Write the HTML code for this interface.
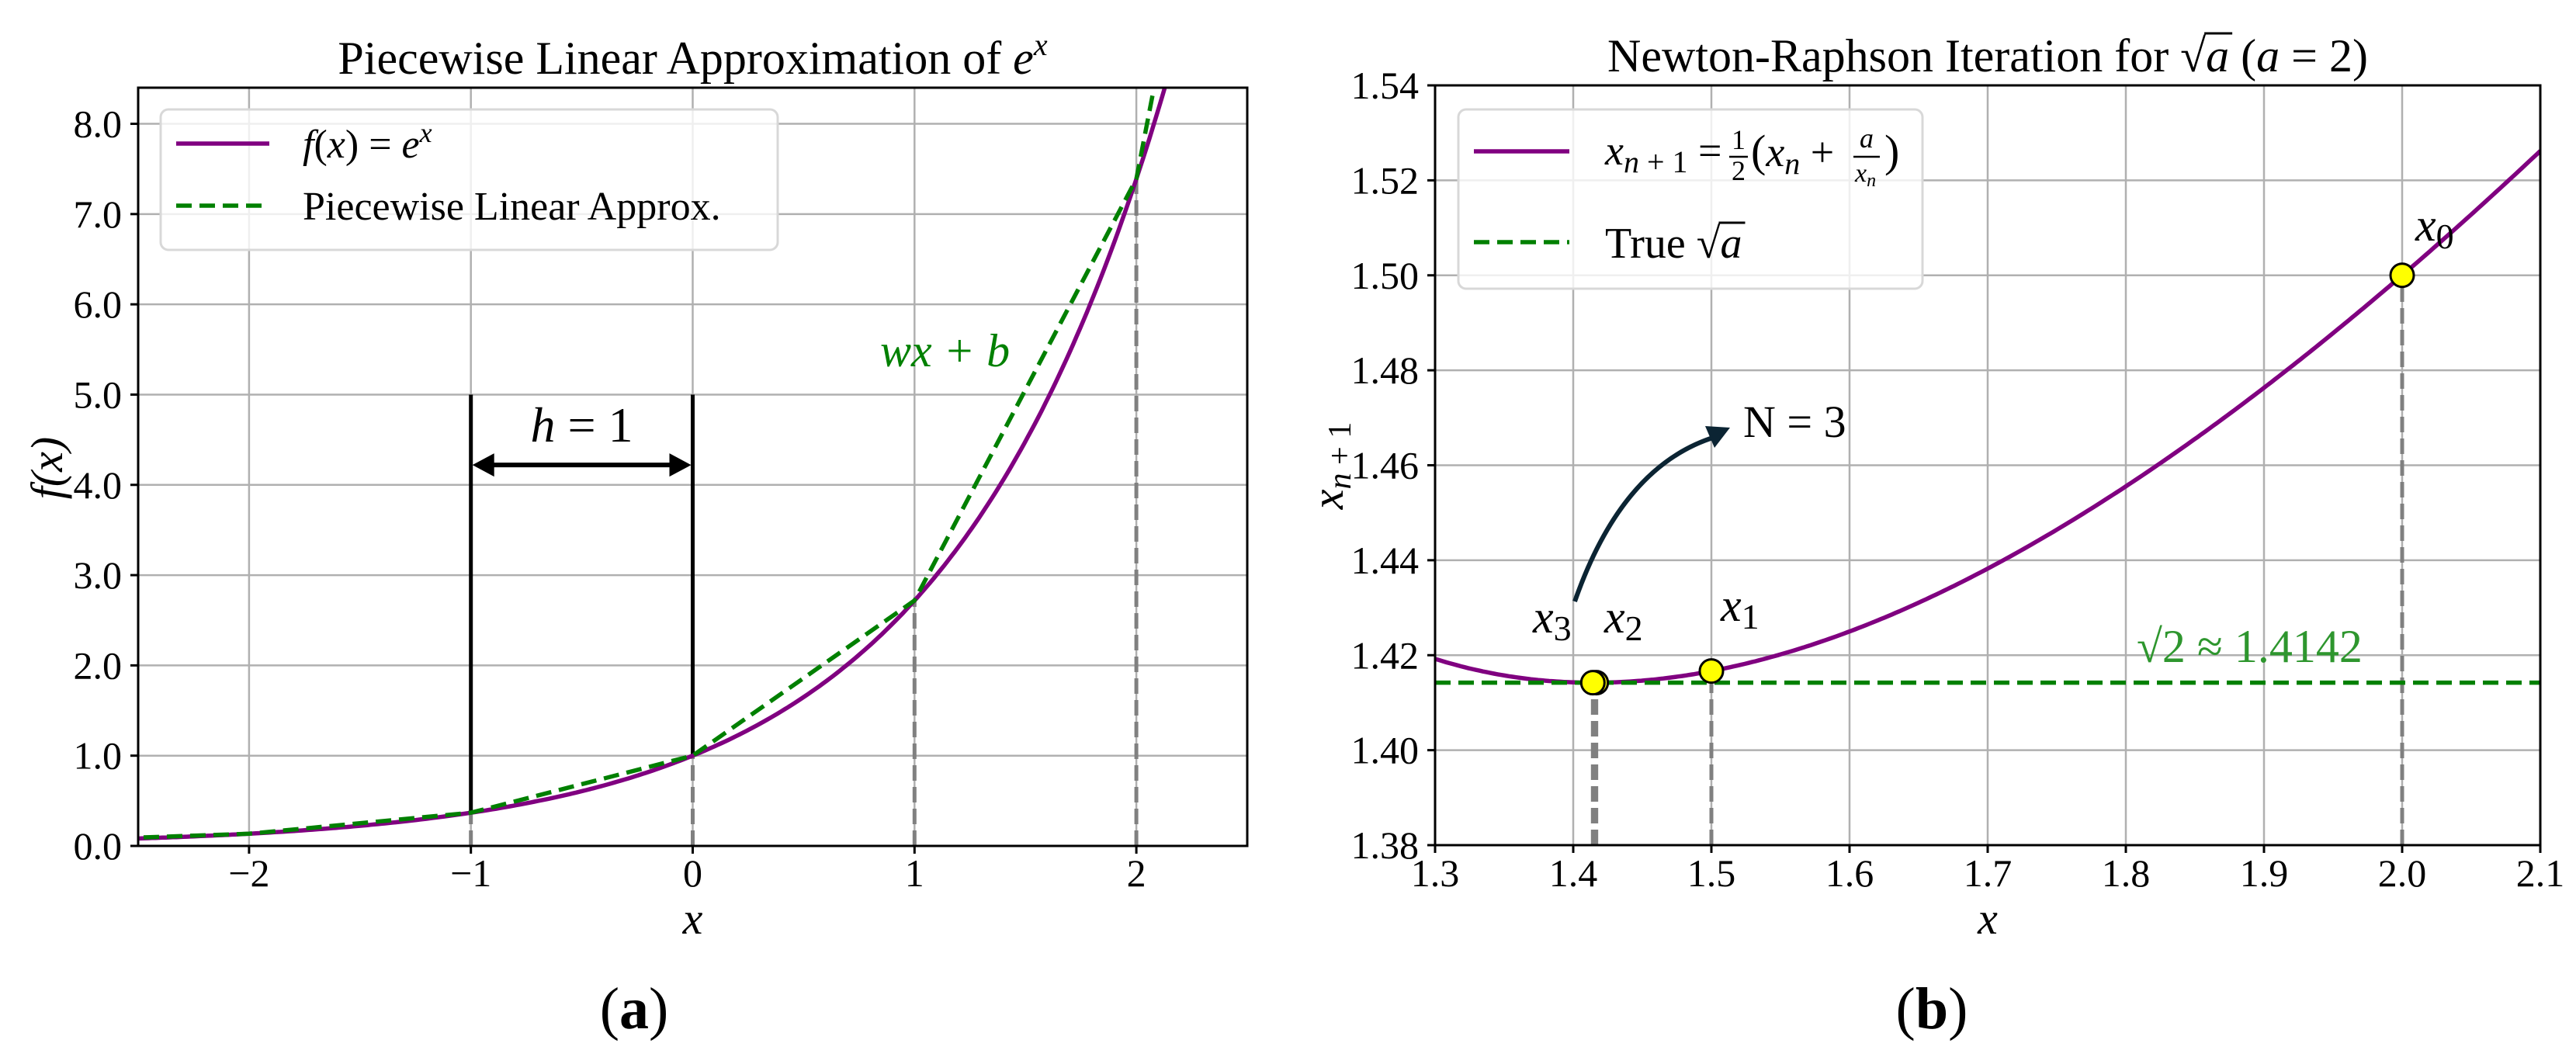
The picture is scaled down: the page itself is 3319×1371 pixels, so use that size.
<!DOCTYPE html>
<html><head><meta charset="utf-8"><style>
html,body{margin:0;padding:0;background:#fff;}
svg{display:block;}
text{font-family:"Liberation Serif",serif;fill:#000;}
</style></head><body>
<svg id="fig" width="3319" height="1371" viewBox="0 0 3319 1371" xmlns="http://www.w3.org/2000/svg">
<g id="pa"></g>
<g id="pb"></g>
</svg>
<script>
// ---- Panel A data ----
const aXTicks = [-2, -1, 0, 1, 2];
const aXTickLabels = ["\u22122", "\u22121", "0", "1", "2"];
const aYTicks = [0, 1, 2, 3, 4, 5, 6, 7, 8];
const aYTickLabels = ["0.0","1.0","2.0","3.0","4.0","5.0","6.0","7.0","8.0"];
const aKnotsX = [-3, -2, -1, 0, 1, 2, 3];
const aKnotsY = [0.0498, 0.1353, 0.3679, 1.0, 2.7183, 7.3891, 20.0855];
const aGuideX = [-1, 0, 1, 2];
// ---- Panel B data ----
const bXTicks = [1.3,1.4,1.5,1.6,1.7,1.8,1.9,2.0,2.1];
const bXTickLabels = ["1.3","1.4","1.5","1.6","1.7","1.8","1.9","2.0","2.1"];
const bYTicks = [1.38,1.40,1.42,1.44,1.46,1.48,1.50,1.52,1.54];
const bYTickLabels = ["1.38","1.40","1.42","1.44","1.46","1.48","1.50","1.52","1.54"];
const bIterX = [2.0, 1.5, 1.416667, 1.414216];
const bIterY = [1.5, 1.416667, 1.414216, 1.414214];
const bTrueRoot = [1.414214];
const bA = [2];

const NS = "http://www.w3.org/2000/svg";
function mk(parent, tag, attrs, txt){
  const e = document.createElementNS(NS, tag);
  for (const k in attrs) e.setAttribute(k, attrs[k]);
  if (txt !== undefined) e.textContent = txt;
  parent.appendChild(e); return e;
}
function lin(d0,d1,r0,r1){ return v => r0 + (v-d0)/(d1-d0)*(r1-r0); }

// ================= PANEL A =================
(function(){
  const g = document.getElementById('pa');
  const L=178,R=1607,T=113,B=1090;
  const X = lin(-2.5,2.5,L,R), Y = lin(0,8.4,B,T);
  mk(g,'defs',{}).innerHTML = '<clipPath id="clipA"><rect x="'+L+'" y="'+T+'" width="'+(R-L)+'" height="'+(B-T)+'"/></clipPath>';
  const grid = mk(g,'g',{});  
  aXTicks.forEach(v=>{ mk(grid,'line',{x1:X(v),x2:X(v),y1:T,y2:B,stroke:'#b0b0b0','stroke-width':2.5}); });
  aYTicks.forEach(v=>{ mk(grid,'line',{x1:L,x2:R,y1:Y(v),y2:Y(v),stroke:'#b0b0b0','stroke-width':2.5}); });
  const plot = mk(g,'g',{'clip-path':'url(#clipA)'});
  aGuideX.forEach(v=>{
    const gl = mk(plot,'line',{x1:X(v),x2:X(v),y1:B,y2:Y(Math.exp(v)),stroke:'#808080','stroke-width':5,'stroke-dasharray':'20,8'});
     
  });
  [-1,0].forEach(v=>{
    const bl = mk(plot,'line',{x1:X(v),x2:X(v),y1:Y(5),y2:Y(Math.exp(v)),stroke:'#000','stroke-width':5});
     
  });
  let d=''; for(let i=0;i<=300;i++){ const x=-2.5+i*4.7/300; d+=(i?'L':'M')+X(x).toFixed(1)+','+Y(Math.exp(x)).toFixed(1); }
  const c = mk(plot,'path',{d:d,fill:'none',stroke:'#800080','stroke-width':5.5});
   
  let p=''; aKnotsX.forEach((x,i)=>{ p+=(i?'L':'M')+X(x).toFixed(1)+','+Y(aKnotsY[i]).toFixed(1); });
  const pw = mk(plot,'path',{d:p,fill:'none',stroke:'#008000','stroke-width':5.5,'stroke-dasharray':'20,10'});
   
  const ay = Y(4.22);
  const ar = mk(g,'g',{});  
  mk(ar,'line',{x1:X(-1)+25,x2:X(0)-25,y1:ay,y2:ay,stroke:'#000','stroke-width':6});
  mk(ar,'polygon',{points:`${X(-1)+2},${ay} ${X(-1)+30},${ay-15} ${X(-1)+30},${ay+15}`,fill:'#000'});
  mk(ar,'polygon',{points:`${X(0)-2},${ay} ${X(0)-30},${ay-15} ${X(0)-30},${ay+15}`,fill:'#000'});
  const ht = mk(g,'text',{x:(X(-1)+X(0))/2,y:569,'font-size':64,'text-anchor':'middle','font-family':'DejaVu Serif'});
  ht.innerHTML='<tspan font-style="italic">h</tspan> = 1';
   
  const wt = mk(g,'text',{x:1134,y:472,'font-size':60,'font-style':'italic','font-family':'DejaVu Serif'},'wx + b');
  wt.style.fill='#008000';
   
  mk(g,'rect',{x:L,y:T,width:R-L,height:B-T,fill:'none',stroke:'#000','stroke-width':3});
  aXTicks.forEach((v,i)=>{
    mk(g,'line',{x1:X(v),x2:X(v),y1:B,y2:B+10,stroke:'#000','stroke-width':3});
    const t=mk(g,'text',{x:X(v),y:1142,'font-size':50,'text-anchor':'middle'},aXTickLabels[i]);
     
  });
  aYTicks.forEach((v,i)=>{
    mk(g,'line',{x1:L-10,x2:L,y1:Y(v),y2:Y(v),stroke:'#000','stroke-width':3});
    const t=mk(g,'text',{x:157,y:Y(v)+17,'font-size':50,'text-anchor':'end'},aYTickLabels[i]);
     
  });
  const xl=mk(g,'text',{x:(L+R)/2,y:1203,'font-size':58,'text-anchor':'middle','font-style':'italic'},'x');
   
  const yl=mk(g,'text',{x:0,y:0,'font-size':58,'text-anchor':'middle','font-style':'italic',transform:'translate(80,603) rotate(-90)'},'f(x)');
   
  const ti=mk(g,'text',{x:(L+R)/2,y:95,'font-size':60,'text-anchor':'middle'});
  ti.innerHTML='Piecewise Linear Approximation of <tspan font-style="italic">e</tspan><tspan font-style="italic" font-size="40" dy="-24">x</tspan>';
   
  const lg=mk(g,'g',{});  
  mk(lg,'rect',{x:207,y:141,width:795,height:181,rx:10,fill:'rgba(255,255,255,0.8)',stroke:'#d8d8d8','stroke-width':3});
  mk(lg,'line',{x1:227,x2:347,y1:185,y2:185,stroke:'#800080','stroke-width':5.5});
  const l1=mk(lg,'text',{x:390,y:203,'font-size':52});
  l1.innerHTML='<tspan font-style="italic">f</tspan>(<tspan font-style="italic">x</tspan>) = <tspan font-style="italic">e</tspan><tspan font-style="italic" font-size="36" dy="-20">x</tspan>';
   
  mk(lg,'line',{x1:227,x2:347,y1:265,y2:265,stroke:'#008000','stroke-width':5.5,'stroke-dasharray':'20,10'});
  const l2=mk(lg,'text',{x:390,y:283,'font-size':52},'Piecewise Linear Approx.');
   
  const cap=mk(g,'text',{x:817,y:1325,'font-size':76,'text-anchor':'middle'});
  cap.innerHTML='(<tspan font-weight="bold">a</tspan>)';
   
})();

// ================= PANEL B =================
(function(){
  const g = document.getElementById('pb');
  const L=1849,R=3273,T=110,B=1089;
  const X = lin(1.3,2.1,L,R), Y = lin(1.38,1.54,B,T);
  const a = bA[0];
  mk(g,'defs',{}).innerHTML = '<clipPath id="clipB"><rect x="'+L+'" y="'+T+'" width="'+(R-L)+'" height="'+(B-T)+'"/></clipPath>';
  const grid = mk(g,'g',{});  
  bXTicks.forEach(v=>{ mk(grid,'line',{x1:X(v),x2:X(v),y1:T,y2:B,stroke:'#b0b0b0','stroke-width':2.5}); });
  bYTicks.forEach(v=>{ mk(grid,'line',{x1:L,x2:R,y1:Y(v),y2:Y(v),stroke:'#b0b0b0','stroke-width':2.5}); });
  const plot = mk(g,'g',{'clip-path':'url(#clipB)'});
  bIterX.forEach((x,i)=>{
    const gl=mk(plot,'line',{x1:X(x),x2:X(x),y1:B,y2:Y(bIterY[i]),stroke:'#808080','stroke-width':5,'stroke-dasharray':'20,8'});
     
  });
  let d=''; for(let i=0;i<=300;i++){ const x=1.3+i*0.8/300; d+=(i?'L':'M')+X(x).toFixed(1)+','+Y(0.5*(x+a/x)).toFixed(1); }
  const c=mk(plot,'path',{d:d,fill:'none',stroke:'#800080','stroke-width':5.5});
   
  const tl=mk(plot,'line',{x1:L,x2:R,y1:Y(bTrueRoot[0]),y2:Y(bTrueRoot[0]),stroke:'#008000','stroke-width':5.5,'stroke-dasharray':'20,10'});
   
  bIterX.forEach((x,i)=>{
    const pt=mk(plot,'circle',{cx:X(x),cy:Y(bIterY[i]),r:15,fill:'#ffff00',stroke:'#000','stroke-width':3});
     
  });
  const labs=[['0',3112,310],['1',2217,800],['2',2067,815],['3',1975,815]];
  labs.forEach(l=>{
    const t=mk(g,'text',{x:l[1],y:l[2],'font-size':60});
    t.innerHTML='<tspan font-style="italic">x</tspan><tspan font-size="46" dy="10">'+l[0]+'</tspan>';
     
  });
  const ar=mk(g,'g',{});  
  mk(ar,'path',{d:'M2029,775 Q2090,600 2210,563',fill:'none',stroke:'#0b2433','stroke-width':6});
  mk(ar,'polygon',{points:'2229,551 2197,549 2209,577',fill:'#0b2433'});
  const nt=mk(g,'text',{x:2246,y:563,'font-size':58,'font-family':'DejaVu Serif'},'N = 3');
   
  const rt=mk(g,'text',{x:2753,y:853,'font-size':60,'font-family':'DejaVu Serif'},'\u221A2 \u2248 1.4142');
  rt.style.fill='#2e962e';
   
  mk(g,'rect',{x:L,y:T,width:R-L,height:B-T,fill:'none',stroke:'#000','stroke-width':3});
  bXTicks.forEach((v,i)=>{
    mk(g,'line',{x1:X(v),x2:X(v),y1:B,y2:B+10,stroke:'#000','stroke-width':3});
    const t=mk(g,'text',{x:X(v),y:1142,'font-size':50,'text-anchor':'middle'},bXTickLabels[i]);
     
  });
  bYTicks.forEach((v,i)=>{
    mk(g,'line',{x1:L-10,x2:L,y1:Y(v),y2:Y(v),stroke:'#000','stroke-width':3});
    const t=mk(g,'text',{x:1828,y:Y(v)+17,'font-size':50,'text-anchor':'end'},bYTickLabels[i]);
     
  });
  const xl=mk(g,'text',{x:(L+R)/2,y:1203,'font-size':58,'text-anchor':'middle','font-style':'italic'},'x');
   
  const yl=mk(g,'text',{x:0,y:0,'font-size':58,'text-anchor':'middle',transform:'translate(1730,600) rotate(-90)'});
  yl.innerHTML='<tspan font-style="italic">x</tspan><tspan font-size="42" dy="10"><tspan font-style="italic">n</tspan> + 1</tspan>';
   
  const ti=mk(g,'text',{x:(L+R)/2,y:92,'font-size':60,'text-anchor':'middle'});
  ti.innerHTML='Newton-Raphson Iteration for \u221A<tspan font-style="italic">a</tspan> (<tspan font-style="italic">a</tspan> = 2)';
   
  // overbar for sqrt in title
  const tb = ti.getBBox ? null : null;
  const lg=mk(g,'g',{});  
  mk(lg,'rect',{x:1879,y:141,width:598,height:231,rx:10,fill:'rgba(255,255,255,0.8)',stroke:'#d8d8d8','stroke-width':3});
  mk(lg,'line',{x1:1899,x2:2022,y1:195,y2:195,stroke:'#800080','stroke-width':5.5});
  const l1=mk(lg,'g',{});  
  const t1=mk(l1,'text',{x:2068,y:212,'font-size':54});
  t1.innerHTML='<tspan font-style="italic">x</tspan><tspan font-size="40" dy="10"><tspan font-style="italic">n</tspan> + 1</tspan><tspan dy="-10"> =</tspan>';
  mk(l1,'text',{x:2240,y:192,'font-size':36,'text-anchor':'middle'},'1');
  mk(l1,'line',{x1:2228,x2:2252,y1:202,y2:202,stroke:'#000','stroke-width':2.5});
  mk(l1,'text',{x:2240,y:232,'font-size':36,'text-anchor':'middle'},'2');
  const t2=mk(l1,'text',{x:2256,y:214,'font-size':58});
  t2.innerHTML='(<tspan font-style="italic" font-size="54">x</tspan><tspan font-size="40" font-style="italic" dy="10">n</tspan><tspan dy="-10" font-size="54"> +</tspan>';
  mk(l1,'text',{x:2405,y:190,'font-size':36,'text-anchor':'middle','font-style':'italic'},'a');
  mk(l1,'line',{x1:2388,x2:2422,y1:202,y2:202,stroke:'#000','stroke-width':2.5});
  const t3=mk(l1,'text',{x:2390,y:234,'font-size':34,'font-style':'italic'});
  t3.innerHTML='x<tspan font-size="24" dy="6">n</tspan>';
  mk(l1,'text',{x:2428,y:214,'font-size':58},')');
  mk(lg,'line',{x1:1899,x2:2022,y1:312,y2:312,stroke:'#008000','stroke-width':5.5,'stroke-dasharray':'20,10'});
  const l2=mk(lg,'text',{x:2068,y:332,'font-size':56});
  l2.innerHTML='True \u221A<tspan font-style="italic">a</tspan>';
   
  // sqrt overbars
  requestAnimationFrame(()=>{});
  try{
    [[ti,"\u221A"],[l2,"\u221A"]].forEach(([el])=>{
      const s = el.textContent.indexOf("\u221A");
      const ex = el.getExtentOfChar(s+1), es = el.getExtentOfChar(s);
      mk(g,'line',{x1:es.x+es.width-2,x2:ex.x+ex.width+4,y1:es.y+4,y2:es.y+4,stroke:'#000','stroke-width':3});
    });
  }catch(e){}
  const cap=mk(g,'text',{x:2489,y:1325,'font-size':76,'text-anchor':'middle'});
  cap.innerHTML='(<tspan font-weight="bold">b</tspan>)';
   
})();
</script>
</body></html>
